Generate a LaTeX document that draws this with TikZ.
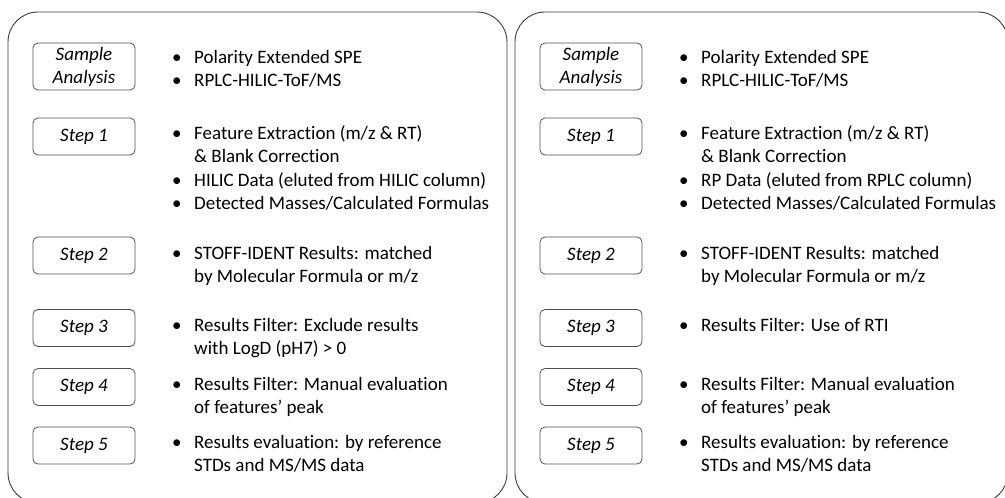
\documentclass[tikz,border=0pt]{standalone}
\usepackage{fontspec}
\setmainfont[RawFeature={-liga;-clig;-dlig;-calt}]{Carlito}
\definecolor{bigline}{HTML}{3C3C3C}
\definecolor{smallline}{HTML}{505050}
\newcommand{\bl}{\makebox[22pt][l]{\textbullet}}
\newcommand{\cl}{\hspace*{22pt}}
\newcommand{\nl}{\kern0pt{}}
\begin{document}
\begin{tikzpicture}[x=1pt,y=-1pt,
  panel/.style={draw=bigline,line width=0.9pt,rounded corners=30pt},
  stepbox/.style={draw=smallline,line width=0.8pt,rounded corners=5pt,minimum width=102pt,minimum height=37pt,inner sep=0pt,align=center,font=\fontsize{19}{23}\selectfont\itshape},
  desc/.style={anchor=base west,inner sep=0pt,align=left,font=\fontsize{19}{23.6}\selectfont}
]
\useasboundingbox (0,0) rectangle (1005,498);
\clip (0,0) rectangle (1005,498);
\draw[panel] (8,12) rectangle (507,503);
\draw[panel] (515,12) rectangle (1008,503);

% left panel (desc nodes are placed at the baseline of their last line)
\node[stepbox,minimum height=47pt] (lsa) at (84,66.5) {Sample\\Analysis};
\node[stepbox] (ls1) at (84,136.5) {Step 1};
\node[stepbox] (ls2) at (84,255.5) {Step 2};
\node[stepbox] (ls3) at (84,328) {Step 3};
\node[stepbox] (ls4) at (84,387) {Step 4};
\node[stepbox] (ls5) at (84,445.5) {Step 5};

\node[desc] (lta) at (172,86.6) {\bl Polarity Extended SPE\\\bl RPLC-HILIC-ToF/MS};
\node[desc] (lt1) at (172,209.8) {\bl Feature Extract\nl ion (m/z \& RT)\\\cl\& Blank Correct\nl ion\\\bl HILIC Data (eluted from HILIC column)\\\bl Detected Masses/Calculated Formulas};
\node[desc] (lt2) at (172,282.6) {\bl STOFF-IDENT Results: matched\\\cl by Molecular Formula or m/z};
\node[desc] (lt3) at (172,354.6) {\bl Results Filter: Exclude results\\\cl with LogD (pH7) > 0};
\node[desc] (lt4) at (172,413.6) {\bl Results Filter: Manual evaluat\nl ion\\\cl of features’ peak};
\node[desc] (lt5) at (172,471.6) {\bl Results evaluat\nl ion: by reference\\\cl STDs and MS/MS data};

% right panel
\node[stepbox,minimum height=47pt] (rsa) at (591,66.5) {Sample\\Analysis};
\node[stepbox] (rs1) at (591,136.5) {Step 1};
\node[stepbox] (rs2) at (591,255.5) {Step 2};
\node[stepbox] (rs3) at (591,328) {Step 3};
\node[stepbox] (rs4) at (591,387) {Step 4};
\node[stepbox] (rs5) at (591,445.5) {Step 5};

\node[desc] (rta) at (679,86.6) {\bl Polarity Extended SPE\\\bl RPLC-HILIC-ToF/MS};
\node[desc] (rt1) at (679,209.8) {\bl Feature Extract\nl ion (m/z \& RT)\\\cl\& Blank Correct\nl ion\\\bl RP Data (eluted from RPLC column)\\\bl Detected Masses/Calculated Formulas};
\node[desc] (rt2) at (679,282.6) {\bl STOFF-IDENT Results: matched\\\cl by Molecular Formula or m/z};
\node[desc] (rt3) at (679,331) {\bl Results Filter: Use of RTI};
\node[desc] (rt4) at (679,413.6) {\bl Results Filter: Manual evaluat\nl ion\\\cl of features’ peak};
\node[desc] (rt5) at (679,471.6) {\bl Results evaluat\nl ion: by reference\\\cl STDs and MS/MS data};
\end{tikzpicture}
\end{document}
